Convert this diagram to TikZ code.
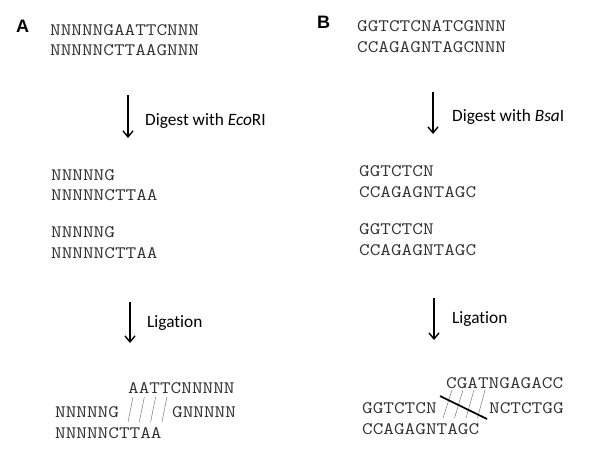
\documentclass[tikz,border=0pt]{standalone}
\usepackage{fontspec}
\setmonofont{Latin Modern Mono}[FakeStretch=1.18]
\newfontfamily\calibrifont{Carlito}[Ligatures=NoCommon]
\newfontfamily\arialfont{Liberation Sans}
\usetikzlibrary{arrows.meta, positioning}
\definecolor{seqgray}{RGB}{50, 50, 50}
\definecolor{hbond}{RGB}{120, 120, 120}

\begin{document}
\begin{tikzpicture}[
        x=1pt, y=-1pt,
        seq/.style={anchor=base west, inner sep=0pt, text=seqgray, font=\ttfamily\fontsize{17.5}{20}\selectfont},
        panel/.style={anchor=base west, inner sep=0pt, font=\arialfont\bfseries\fontsize{18}{20}\selectfont},
        steplabel/.style={anchor=base west, inner sep=0pt, font=\calibrifont\fontsize{17.3}{19}\selectfont},
        arrow/.style={line width=1.4pt, -{Straight Barb[length=6pt, width=10pt]}},
        pairline/.style={draw=hbond, line width=0.5pt}
    ]
        \useasboundingbox (0,0) rectangle (593,459);

        % panel A
        \node[panel] (labA) at (16,32) {A};
        \node[seq] (a1top) at (50,35) {NNNNNGAATTCNNN};
        \node[seq] (a1bot) at (50,55) {NNNNNCTTAAGNNN};

        \coordinate (arrA1s) at (128,95);
        \coordinate (arrA1e) at (128,138);
        \draw[arrow] (arrA1s) -- (arrA1e);
        \node[steplabel] (digA) at (145,125) {Digest with \textit{Eco}RI};

        \node[seq] (a2top) at (51,180) {NNNNNG};
        \node[seq] (a2bot) at (51,200) {NNNNNCTTAA};
        \node[seq] (a3top) at (51,237) {NNNNNG};
        \node[seq] (a3bot) at (51,258) {NNNNNCTTAA};

        \coordinate (arrA2s) at (130,302);
        \coordinate (arrA2e) at (130,343);
        \draw[arrow] (arrA2s) -- (arrA2e);
        \node[steplabel] (ligA) at (147,327) {Ligation};

        \node[seq] (a4top) at (128,393) {AATTCNNNNN};
        \node[seq] (a4left) at (55,417) {NNNNNG};
        \node[seq] (a4right) at (172,417) {GNNNNN};
        \node[seq] (a4bot) at (55,438) {NNNNNCTTAA};
        \foreach \i in {0,1,2,3}
            \draw[pairline] (128+11.3*\i,422) -- (133+11.3*\i,397);

        % panel B
        \node[panel] (labB) at (317,28) {B};
        \node[seq] (b1top) at (357,31) {GGTCTCNATCGNNN};
        \node[seq] (b1bot) at (357,52) {CCAGAGNTAGCNNN};

        \coordinate (arrB1s) at (433,92);
        \coordinate (arrB1e) at (433,134);
        \draw[arrow] (arrB1s) -- (arrB1e);
        \node[steplabel] (digB) at (452,121) {Digest with \textit{Bsa}I};

        \node[seq] (b2top) at (359,176) {GGTCTCN};
        \node[seq] (b2bot) at (359,197) {CCAGAGNTAGC};
        \node[seq] (b3top) at (359,234) {GGTCTCN};
        \node[seq] (b3bot) at (359,255) {CCAGAGNTAGC};

        \coordinate (arrB2s) at (434,298);
        \coordinate (arrB2e) at (434,340);
        \draw[arrow] (arrB2s) -- (arrB2e);
        \node[steplabel] (ligB) at (452,323) {Ligation};

        \node[seq] (b4top) at (446,388) {CGATNGAGACC};
        \node[seq] (b4left) at (362,413) {GGTCTCN};
        \node[seq] (b4right) at (489,413) {NCTCTGG};
        \node[seq] (b4bot) at (362,434) {CCAGAGNTAGC};
        \foreach \i in {0,1,2,3}
            \draw[pairline] (443+11.5*\i,418) -- (452+11*\i,390);
        \coordinate (cutS) at (440,396);
        \coordinate (cutE) at (487,419);
        \draw[line width=1.7pt] (cutS) -- (cutE);
    \end{tikzpicture}
\end{document}
